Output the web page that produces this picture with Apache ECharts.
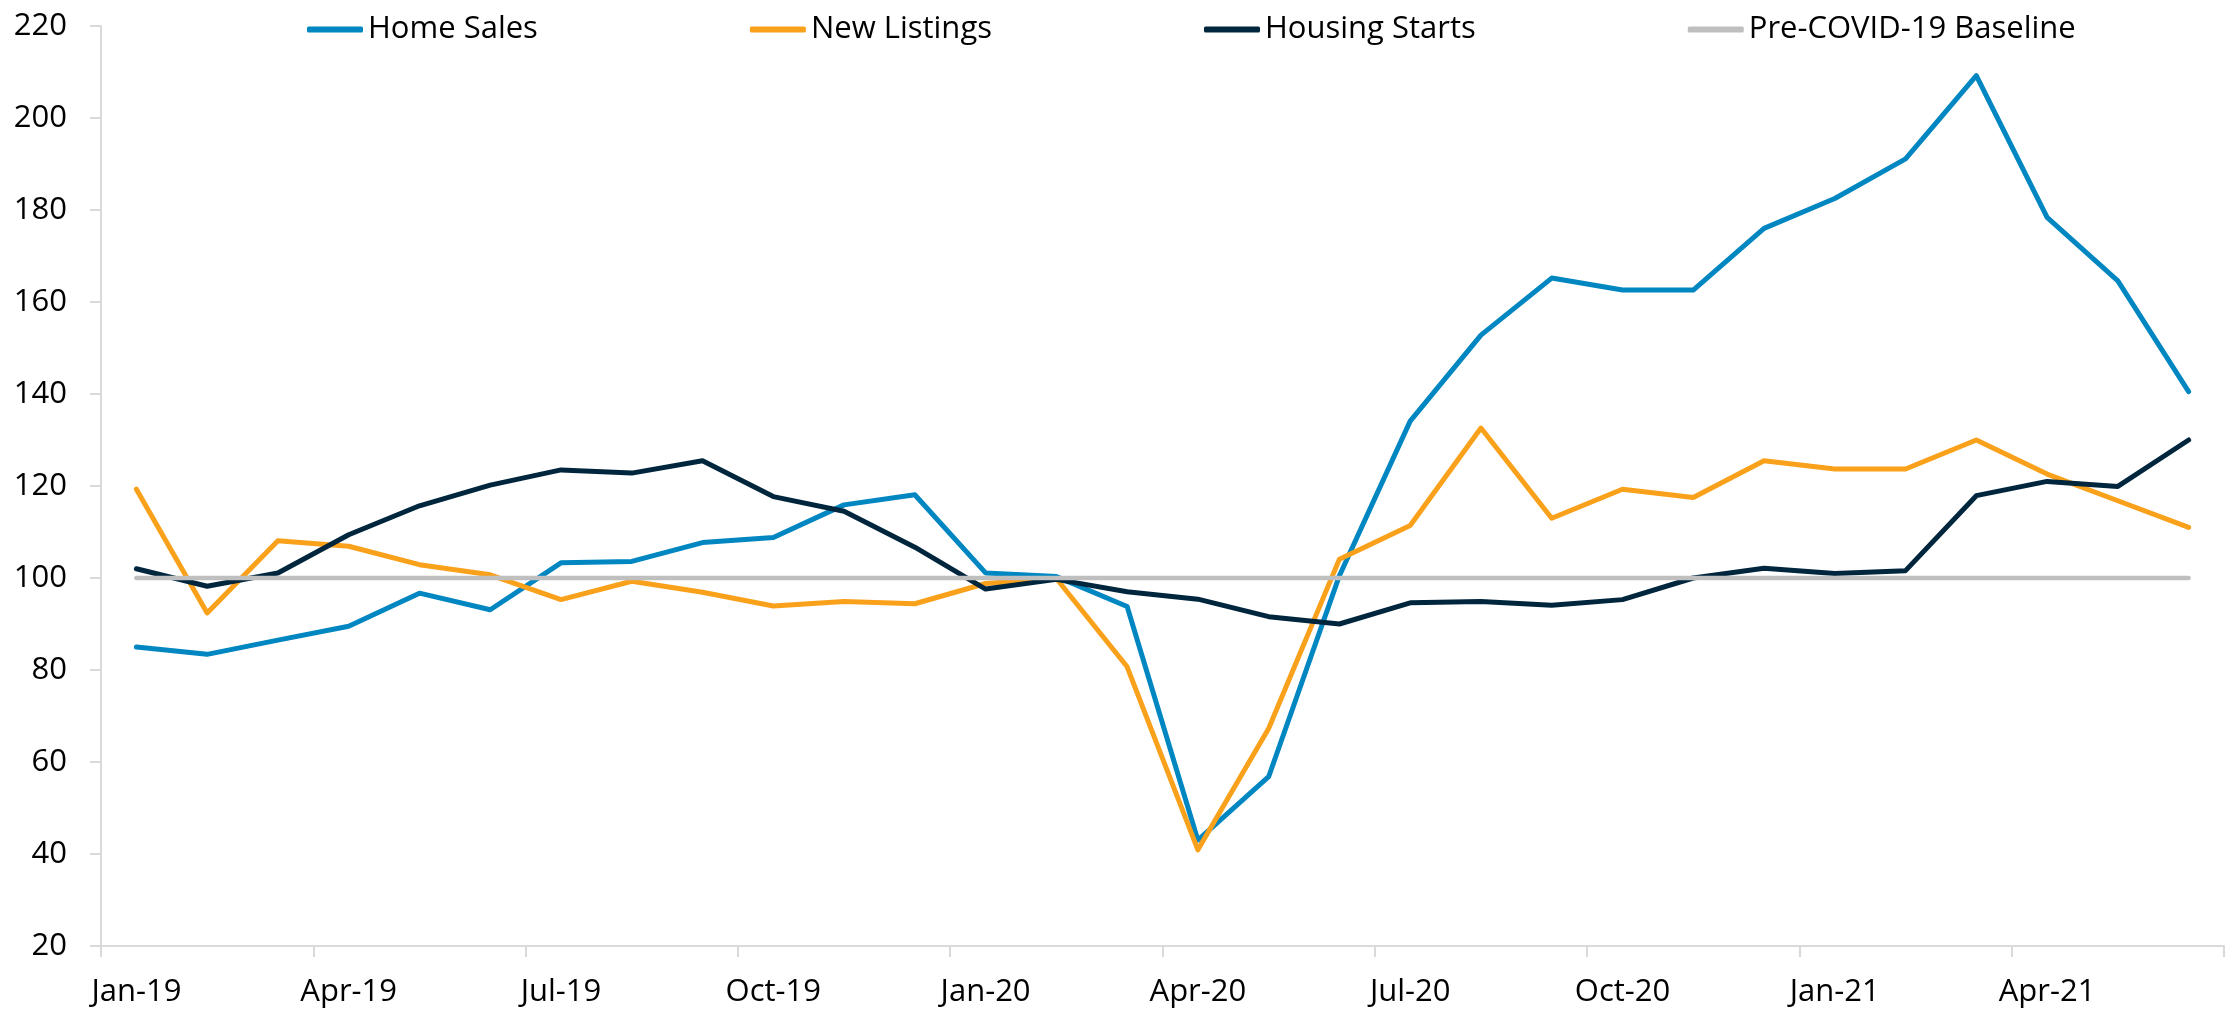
<!DOCTYPE html>
<html>
<head>
<meta charset="utf-8">
<script src="https://cdn.jsdelivr.net/npm/echarts@6/dist/echarts.min.js"></script>
<style>
  html, body { margin: 0; padding: 0; background: #fff; }
  #chart { width: 2228px; height: 1017px; }
</style>
</head>
<body>
<div id="chart"></div>
<script>
// months, Jan-19 .. Jun-21
var months = ['Jan-19', 'Feb-19', 'Mar-19', 'Apr-19', 'May-19', 'Jun-19', 'Jul-19', 'Aug-19', 'Sep-19', 'Oct-19', 'Nov-19', 'Dec-19',
  'Jan-20', 'Feb-20', 'Mar-20', 'Apr-20', 'May-20', 'Jun-20', 'Jul-20', 'Aug-20', 'Sep-20', 'Oct-20', 'Nov-20', 'Dec-20',
  'Jan-21', 'Feb-21', 'Mar-21', 'Apr-21', 'May-21', 'Jun-21'];

var homeSales = [85, 83.4, 86.5, 89.5, 96.7, 93.1, 103.3, 103.6, 107.7, 108.8, 115.9, 118.1,
  101.1, 100.3, 93.8, 43, 56.8, 100.5, 134.1, 152.8, 165.2, 162.6, 162.6, 176,
  182.5, 191.1, 209.2, 178.4, 164.6, 140.5];

var newListings = [119.3, 92.4, 108.1, 106.9, 102.9, 100.7, 95.3, 99.3, 96.9, 93.9, 94.9, 94.4,
  98.8, 99.9, 80.7, 40.9, 67.3, 104.1, 111.4, 132.6, 113, 119.3, 117.5, 125.5,
  123.7, 123.7, 130, 122.6, 116.8, 111];

var housingStarts = [102, 98.2, 101.1, 109.4, 115.7, 120.2, 123.5, 122.8, 125.5, 117.7, 114.5, 106.7,
  97.6, 99.7, 97, 95.4, 91.6, 90, 94.6, 94.9, 94.1, 95.3, 100, 102.1,
  101, 101.6, 117.9, 121, 119.9, 130];

var baseline = [100, 100, 100, 100, 100, 100, 100, 100, 100, 100, 100, 100,
  100, 100, 100, 100, 100, 100, 100, 100, 100, 100, 100, 100,
  100, 100, 100, 100, 100, 100];

var chart = echarts.init(document.getElementById('chart'));

function lineSeries(name, data, color, width) {
  return {
    name: name,
    type: 'line',
    data: data,
    symbol: 'none',
    color: color,
    lineStyle: { color: color, width: width, cap: 'round', join: 'round' },
    emphasis: { disabled: true }
  };
}

chart.setOption({
  backgroundColor: '#fff',
  animation: false,
  textStyle: { fontFamily: 'Open Sans' },
  legend: {
    left: 302,
    top: 9,
    itemGap: 212,
    itemWidth: 56,
    itemHeight: 6,
    icon: 'roundRect',
    textStyle: { fontSize: 31, color: '#000', fontFamily: 'Open Sans' },
    data: ['Home Sales', 'New Listings', 'Housing Starts', 'Pre-COVID-19 Baseline']
  },
  grid: { left: 101, right: 4, top: 26, bottom: 71, containLabel: false },
  xAxis: {
    type: 'category',
    data: months,
    boundaryGap: true,
    axisLine: { lineStyle: { color: '#d9d9d9', width: 2 } },
    axisTick: { show: true, interval: 2, length: 11, lineStyle: { color: '#d9d9d9', width: 2 } },
    axisLabel: { interval: 2, fontSize: 31, color: '#000', margin: 31 },
    splitLine: { show: false }
  },
  yAxis: {
    type: 'value',
    min: 20,
    max: 220,
    interval: 20,
    axisLine: { show: true, lineStyle: { color: '#d9d9d9', width: 2 } },
    axisTick: { show: true, length: 11, lineStyle: { color: '#d9d9d9', width: 2 } },
    axisLabel: { fontSize: 31, color: '#000', margin: 34 },
    splitLine: { show: false }
  },
  series: [
    lineSeries('Home Sales', homeSales, '#0086c1', 5),
    lineSeries('New Listings', newListings, '#f9a11b', 5),
    lineSeries('Housing Starts', housingStarts, '#00263e', 5),
    lineSeries('Pre-COVID-19 Baseline', baseline, '#bfbfbf', 4.5)
  ]
});
</script>
</body>
</html>
